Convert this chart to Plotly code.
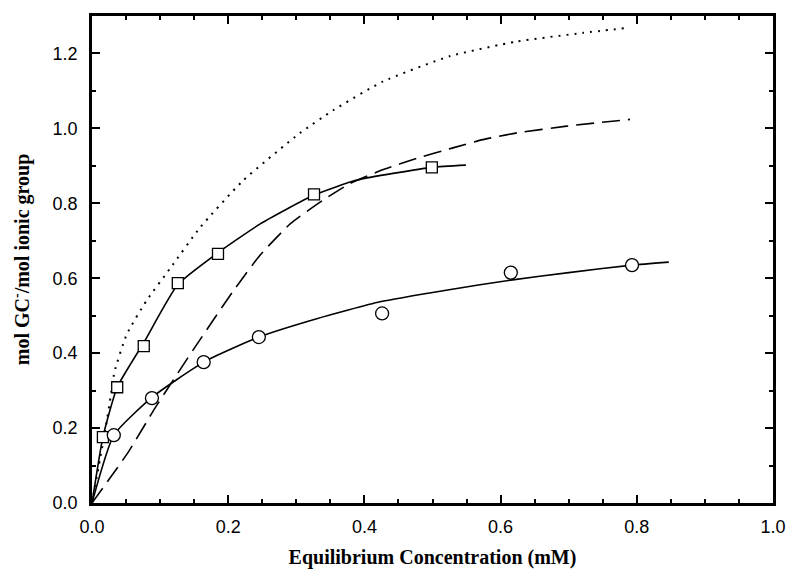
import plotly.graph_objects as go

# Data

# open squares and their fitted curve
square_x = [0.016, 0.037, 0.076, 0.126, 0.185, 0.326, 0.499]
square_y = [0.176, 0.309, 0.419, 0.587, 0.665, 0.824, 0.896]
square_fit_x = [0.0, 0.016, 0.037, 0.076, 0.126, 0.185, 0.247, 0.326, 0.389, 0.499, 0.549]
square_fit_y = [0.0, 0.176, 0.309, 0.428, 0.583, 0.668, 0.745, 0.822, 0.862, 0.896, 0.902]

# open circles and their fitted curve
circle_x = [0.032, 0.088, 0.164, 0.245, 0.426, 0.615, 0.793]
circle_y = [0.181, 0.280, 0.376, 0.443, 0.506, 0.615, 0.635]
circle_fit_x = [0.0, 0.032, 0.088, 0.164, 0.245, 0.330, 0.423, 0.520, 0.615, 0.700, 0.793, 0.847]
circle_fit_y = [0.0, 0.181, 0.282, 0.376, 0.443, 0.492, 0.537, 0.568, 0.595, 0.615, 0.635, 0.643]

# dashed curve
dash_x = [0.0, 0.053, 0.092, 0.149, 0.207, 0.247, 0.291, 0.339, 0.379, 0.428, 0.477, 0.530, 0.574, 0.624, 0.697, 0.790]
dash_y = [0.0, 0.135, 0.252, 0.410, 0.565, 0.662, 0.745, 0.808, 0.853, 0.890, 0.920, 0.948, 0.970, 0.988, 1.006, 1.024]

# dotted curve
dot_x = [0.0, 0.012, 0.020, 0.027, 0.033, 0.051, 0.080, 0.115, 0.159, 0.222, 0.305, 0.354, 0.427, 0.526, 0.624, 0.721, 0.785]
dot_y = [0.0, 0.120, 0.200, 0.280, 0.350, 0.450, 0.540, 0.627, 0.736, 0.861, 0.987, 1.048, 1.125, 1.193, 1.232, 1.255, 1.268]

fig = go.Figure()

spline = dict(shape='spline', smoothing=0.5)

fig.add_trace(go.Scatter(x=dot_x, y=dot_y, mode='lines',
                         line=dict(color='black', width=2, dash='2px,6px', **spline)))
fig.add_trace(go.Scatter(x=dash_x, y=dash_y, mode='lines',
                         line=dict(color='black', width=1.6, dash='18px,8px', **spline)))
fig.add_trace(go.Scatter(x=square_fit_x, y=square_fit_y, mode='lines',
                         line=dict(color='black', width=1.6, **spline)))
fig.add_trace(go.Scatter(x=circle_fit_x, y=circle_fit_y, mode='lines',
                         line=dict(color='black', width=1.6, **spline)))
fig.add_trace(go.Scatter(x=square_x, y=square_y, mode='markers',
                         marker=dict(symbol='square', size=11, color='white',
                                     line=dict(color='black', width=1.3))))
fig.add_trace(go.Scatter(x=circle_x, y=circle_y, mode='markers',
                         marker=dict(symbol='circle', size=13, color='white',
                                     line=dict(color='black', width=1.3))))

axis_common = dict(
    showline=True, linecolor='black', linewidth=2.5, mirror='allticks',
    ticks='inside', ticklen=8, tickwidth=1.5, tickcolor='black',
    showgrid=False, zeroline=False, tickformat='.1f', automargin=False,
    tickfont=dict(family='Liberation Sans', size=18, color='black'),
)

fig.update_xaxes(range=[0, 1.0], dtick=0.2, ticklabelstandoff=6,
                 minor=dict(dtick=0.05, ticks='inside', ticklen=4, tickcolor='black'),
                 title=dict(text='<b>Equilibrium Concentration (mM)</b>', standoff=14,
                            font=dict(family='Liberation Serif', size=20, color='black')),
                 **axis_common)
fig.update_yaxes(range=[0, 1.3], dtick=0.2, ticklabelstandoff=8,
                 minor=dict(dtick=0.1, ticks='inside', ticklen=4, tickcolor='black'),
                 title=dict(text='<b>mol GC<sup>-</sup>/mol ionic group</b>', standoff=18,
                            font=dict(family='Liberation Serif', size=20, color='black')),
                 **axis_common)

fig.update_layout(width=787, height=573, showlegend=False,
                  plot_bgcolor='white', paper_bgcolor='white',
                  margin=dict(l=92, r=14, t=16, b=70))

# drop the page's default body margin so the figure fills the window exactly
fig.write_html("out.html", config={'displayModeBar': False},
               post_script="document.body.style.margin = '0';")
